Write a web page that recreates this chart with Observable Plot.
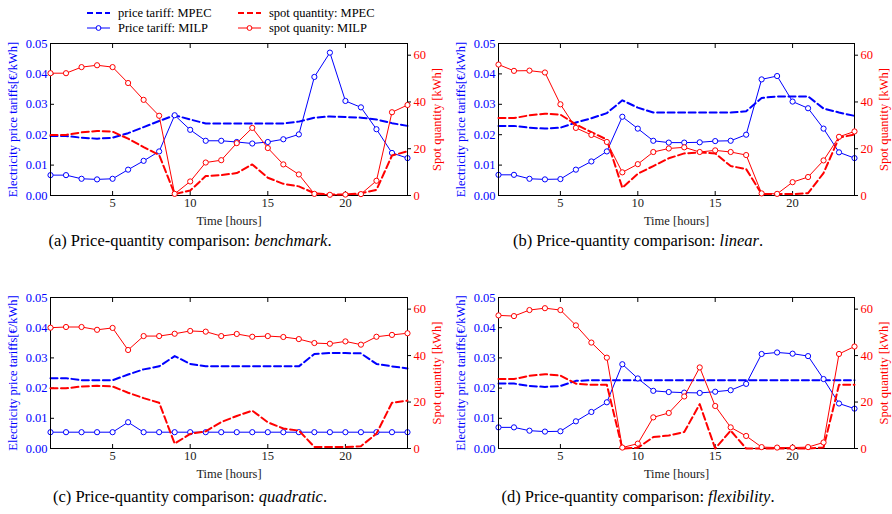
<!DOCTYPE html>
<html><head><meta charset="utf-8">
<script src="https://cdn.jsdelivr.net/npm/d3@7"></script>
<script src="https://cdn.jsdelivr.net/npm/@observablehq/plot@0.6"></script>
<style>
body{margin:0;background:#fff;}
#root{position:relative;width:892px;height:514px;overflow:hidden;font-family:"Liberation Serif",serif;}
.layer{position:absolute;}
.cap{position:absolute;font-family:"Liberation Serif",serif;font-size:16.5px;text-align:center;width:440px;white-space:nowrap;line-height:18px;}
.leg{position:absolute;font-size:12.5px;line-height:14px;white-space:nowrap;color:#000;}
.leg svg{position:absolute;}
</style></head><body><div id="root"></div>
<script>
const hours = d3.range(1, 25);
const xTicks = [5, 10, 15, 20];
const priceTicks = [0, 0.01, 0.02, 0.03, 0.04, 0.05];
const spotTicks = [0, 20, 40, 60];
const captionLetters = ["(a)", "(b)", "(c)", "(d)"];
const captionNames = ["benchmark", "linear", "quadratic", "flexibility"];
const legendLabels = ["price tariff: MPEC", "Price tariff: MILP", "spot quantity: MPEC", "spot quanity: MILP"];

// (a) benchmark
const priceMPEC_a = [0.0196,0.0196,0.019,0.0187,0.019,0.0205,0.0225,0.0245,0.0264,0.025,0.0237,0.0237,0.0237,0.0237,0.0237,0.0237,0.0243,0.0256,0.026,0.0258,0.0256,0.025,0.0238,0.0229];
const priceMILP_a = [0.0067,0.0067,0.0055,0.0053,0.0055,0.0085,0.0114,0.0145,0.0264,0.0216,0.018,0.018,0.0176,0.0171,0.0176,0.0185,0.0201,0.039,0.047,0.0311,0.029,0.0218,0.014,0.0123];
const spotMPEC_a = [25.9,25.9,27,27.6,27.3,24.3,20.7,17.3,0.6,2.1,8.3,8.7,9.6,13.3,7.6,5,3.9,1,0.4,0.4,1,2.4,17.1,18.9];
const spotMILP_a = [52.3,52.3,54.9,55.7,54.9,48.1,40.9,34.1,0.7,6,14.1,15.1,22.4,28.9,20.3,13.3,9,0.7,0.3,0.4,0.6,6.3,35.6,38.7];

// (b) linear
const priceMPEC_b = [0.0229,0.0229,0.0223,0.022,0.0223,0.024,0.0254,0.0271,0.0313,0.0289,0.0273,0.0273,0.0273,0.0273,0.0273,0.0273,0.0277,0.0321,0.0326,0.0326,0.0326,0.0286,0.0273,0.0262];
const priceMILP_b = [0.0068,0.0068,0.0055,0.0053,0.0054,0.0085,0.0112,0.0145,0.0259,0.022,0.018,0.0174,0.0174,0.0175,0.0179,0.018,0.02,0.0382,0.0393,0.0309,0.0287,0.022,0.0142,0.0123];
const spotMPEC_b = [33.1,33.1,34.3,35,34.6,30.4,27.1,23.9,3.3,9.3,12.6,15.9,18,18.4,18,12.6,11.3,0.7,0.6,0.6,1,9.6,24.7,26.1];
const spotMILP_b = [56,53.3,53.4,52.6,39,28.9,25.9,22.9,9.9,13.4,18.6,20.1,20.6,18.6,19.3,18.6,17.3,0.9,0.7,5.7,7.9,15,25.1,27.4];

// (c) quadratic
const priceMPEC_c = [0.0233,0.0233,0.0226,0.0226,0.0226,0.0245,0.0262,0.0272,0.0306,0.028,0.0272,0.0272,0.0272,0.0272,0.0272,0.0272,0.0272,0.0313,0.0316,0.0316,0.0315,0.028,0.0272,0.0265];
const priceMILP_c = [0.0054,0.0054,0.0054,0.0054,0.0054,0.0087,0.0054,0.0054,0.0054,0.0054,0.0054,0.0054,0.0054,0.0054,0.0054,0.0054,0.0054,0.0054,0.0054,0.0054,0.0054,0.0054,0.0054,0.0054];
const spotMPEC_c = [25.9,25.9,26.7,27,26.7,24,21.7,19.7,2.1,6.3,7.4,11.4,14,16.3,11.3,8.6,7.7,0.7,0.6,0.6,1,6.4,19.7,20.6];
const spotMILP_c = [52,52.3,52.3,51.1,51.9,42.4,48.4,48.4,49.4,50.6,50.3,48.4,49.3,48.1,48.4,48,47.1,45.4,45.1,46.1,44.7,48.1,48.9,49.6];

// (d) flexibility
const priceMPEC_d = [0.0215,0.0215,0.0207,0.0204,0.0207,0.0224,0.0226,0.0226,0.0226,0.0226,0.0226,0.0226,0.0226,0.0226,0.0226,0.0226,0.0226,0.0226,0.0226,0.0226,0.0226,0.0226,0.0226,0.0226];
const priceMILP_d = [0.007,0.007,0.0059,0.0056,0.0057,0.009,0.0121,0.0153,0.0279,0.0232,0.0191,0.0187,0.0185,0.0184,0.0188,0.0193,0.0214,0.0313,0.0318,0.0314,0.0306,0.023,0.0149,0.0132];
const spotMPEC_d = [29.9,29.9,31.3,32,31.4,27.9,27.4,27.4,0,0.3,4.9,5.6,7.1,19.1,0,7.7,0,0,0,0,0,0.4,27.4,27.4];
const spotMILP_d = [57.3,57,59.6,60.4,59.6,53,45.6,39.1,0.4,2.1,13.4,15.3,22.4,34.9,18.3,9.1,5.4,0.6,0.4,0.4,0.6,2.6,40.7,43.9];

const BLUE = "#0000ff", RED = "#ff0000";
const rows = vals => hours.map((h, i) => ({h, v: vals[i]}));

const panels = [
  {left: 0, top: 0, ml: 50, mr: 39, mb: 35, pM: priceMPEC_a, pL: priceMILP_a, sM: spotMPEC_a, sL: spotMILP_a},
  {left: 446, top: 0, ml: 52, mr: 38, mb: 35, pM: priceMPEC_b, pL: priceMILP_b, sM: spotMPEC_b, sL: spotMILP_b},
  {left: 0, top: 254, ml: 50, mr: 39, mb: 36, pM: priceMPEC_c, pL: priceMILP_c, sM: spotMPEC_c, sL: spotMILP_c},
  {left: 446, top: 254, ml: 52, mr: 38, mb: 36, pM: priceMPEC_d, pL: priceMILP_d, sM: spotMPEC_d, sL: spotMILP_d}
];

const root = document.getElementById("root");

panels.forEach((p, i) => {
  const base = {
    width: 446, height: 230, marginTop: 43, marginBottom: p.mb, marginLeft: p.ml, marginRight: p.mr,
    x: {domain: [1, 24]},
    style: {fontFamily: "'Liberation Serif', serif", fontSize: "12.5px", background: "transparent", overflow: "visible"}
  };
  const leftPlot = Plot.plot({
    ...base,
    y: {domain: [0, 0.05]},
    marks: [
      Plot.line(rows(p.pM), {x: "h", y: "v", stroke: BLUE, strokeWidth: 2, strokeDasharray: "7,3.5"}),
      Plot.line(rows(p.pL), {x: "h", y: "v", stroke: BLUE, strokeWidth: 1}),
      Plot.dot(rows(p.pL), {x: "h", y: "v", stroke: BLUE, fill: "white", r: 2.6, strokeWidth: 1}),
      Plot.axisX({anchor: "bottom", ticks: xTicks, tickSize: -4, tickPadding: 7, stroke: "black", fill: "#222",
        label: "Time [hours]", labelAnchor: "center", labelArrow: "none", labelOffset: 29}),
      Plot.axisX({anchor: "top", ticks: xTicks, tickSize: -4, tickFormat: () => "", label: null}),
      Plot.axisY({anchor: "left", ticks: priceTicks, tickFormat: d3.format(".2f"), tickSize: -4, tickPadding: 7,
        stroke: "black", fill: BLUE, label: "Electricity price tariffs[€/kWh]", labelAnchor: "center", labelArrow: "none", labelOffset: 42}),
      Plot.frame({stroke: "black", strokeWidth: 1})
    ]
  });
  const rightPlot = Plot.plot({
    ...base,
    x: {domain: [1, 24], axis: null},
    y: {domain: [0, 65]},
    marks: [
      Plot.line(rows(p.sM), {x: "h", y: "v", stroke: RED, strokeWidth: 2, strokeDasharray: "7,3.5"}),
      Plot.line(rows(p.sL), {x: "h", y: "v", stroke: RED, strokeWidth: 1}),
      Plot.dot(rows(p.sL), {x: "h", y: "v", stroke: RED, fill: "white", r: 2.6, strokeWidth: 1}),
      Plot.axisY({anchor: "right", ticks: spotTicks, tickSize: 3, tickPadding: 3, stroke: "black", fill: RED,
        label: "Spot quantity [kWh]", labelAnchor: "center", labelArrow: "none", labelOffset: 33})
    ]
  });
  [leftPlot, rightPlot].forEach(svg => {
    svg.classList.add("layer");
    svg.style.left = p.left + "px";
    svg.style.top = p.top + "px";
    root.appendChild(svg);
  });
  const cap = document.createElement("div");
  cap.className = "cap";
  cap.style.left = (i % 2 === 0 ? 190 : 638) - 220 + "px";
  cap.style.top = (i < 2 ? 232 : 488) + "px";
  cap.innerHTML = `${captionLetters[i]} Price-quantity comparison: <i>${captionNames[i]}</i>.`;
  root.appendChild(cap);
});

// legend (top of panel a)
const legendItems = [
  {x: 87, y: 13, label: legendLabels[0], color: BLUE, dashed: true},
  {x: 87, y: 28, label: legendLabels[1], color: BLUE, dashed: false},
  {x: 238, y: 13, label: legendLabels[2], color: RED, dashed: true},
  {x: 238, y: 28, label: legendLabels[3], color: RED, dashed: false}
];
legendItems.forEach(it => {
  const d = document.createElement("div");
  d.className = "leg";
  d.style.left = it.x + "px";
  d.style.top = (it.y - 7) + "px";
  d.style.height = "14px";
  d.style.paddingLeft = "31px";
  const sw = it.dashed
    ? `<line x1="0" y1="7" x2="23" y2="7" stroke="${it.color}" stroke-width="2" stroke-dasharray="6,3"/>`
    : `<line x1="0" y1="7" x2="23" y2="7" stroke="${it.color}" stroke-width="1"/><circle cx="11.5" cy="7" r="2.4" fill="white" stroke="${it.color}"/>`;
  d.innerHTML = `<svg width="24" height="14" style="left:0;top:0">${sw}</svg>${it.label}`;
  root.appendChild(d);
});
</script>
</body></html>
